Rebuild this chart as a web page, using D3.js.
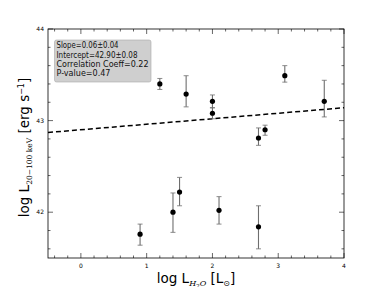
<!DOCTYPE html>
<html>
<head>
<meta charset="utf-8">
<script src="https://cdn.jsdelivr.net/npm/d3@7"></script>
<style>
  body { margin: 0; background: #fff; }
  svg { display: block; font-family: "DejaVu Sans", sans-serif; }
</style>
</head>
<body>
<svg width="382" height="287"></svg>
<script>
// log L_H2O
const xVals = [0.9, 1.4, 1.5, 1.2, 1.6, 2.0, 2.0, 2.1, 2.7, 2.7, 2.8, 3.1, 3.7];
// log L_20-100keV
const yVals = [41.76, 42.0, 42.22, 43.40, 43.29, 43.21, 43.08, 42.02, 41.84, 42.81, 42.90, 43.49, 43.21];
const yErrLow = [0.12, 0.22, 0.15, 0.06, 0.14, 0.07, 0.06, 0.15, 0.24, 0.08, 0.06, 0.07, 0.17];
const yErrHigh = [0.11, 0.21, 0.16, 0.06, 0.20, 0.07, 0.06, 0.15, 0.23, 0.11, 0.05, 0.11, 0.23];

const fitSlope = 0.06;
const fitIntercept = 42.90;
const statLines = [
    "Slope=0.06\u00b10.04",
    "Intercept=42.90\u00b10.08",
    "Correlation Coeff=0.22",
    "P-value=0.47"
];
const xTicks = [0, 1, 2, 3, 4];
const yTicks = [42, 43, 44];

const svg = d3.select("svg");
const mLeft = 48, mRight = 344, mTop = 29, mBottom = 258;

const x = d3.scaleLinear().domain([-0.5, 4]).range([mLeft, mRight]);
const y = d3.scaleLinear().domain([41.5, 44]).range([mBottom, mTop]);

// inward ticks, matplotlib classic style
function drawTicks(axis, scale, values, len) {
    values.forEach(v => {
        const p = scale(v);
        if (axis === "x") {
            svg.append("line").attr("x1", p).attr("x2", p).attr("y1", mBottom).attr("y2", mBottom - len).attr("stroke", "#000").attr("stroke-width", 0.6);
            svg.append("line").attr("x1", p).attr("x2", p).attr("y1", mTop).attr("y2", mTop + len).attr("stroke", "#000").attr("stroke-width", 0.6);
        } else {
            svg.append("line").attr("y1", p).attr("y2", p).attr("x1", mLeft).attr("x2", mLeft + len).attr("stroke", "#000").attr("stroke-width", 0.6);
            svg.append("line").attr("y1", p).attr("y2", p).attr("x1", mRight).attr("x2", mRight - len).attr("stroke", "#000").attr("stroke-width", 0.6);
        }
    });
}

const xMinor = d3.range(-4, 41, 2).map(d => d / 10).filter(d => !xTicks.includes(d));
const yMinor = d3.range(416, 441, 2).map(d => d / 10).filter(d => !yTicks.includes(d));
drawTicks("x", x, xTicks, 5);
drawTicks("x", x, xMinor, 2.5);
drawTicks("y", y, yTicks, 5);
drawTicks("y", y, yMinor, 2.5);

svg.append("g").selectAll("text").data(xTicks).join("text")
    .attr("x", d => x(d)).attr("y", mBottom + 10)
    .attr("text-anchor", "middle").attr("font-size", 6).attr("fill", "#000")
    .text(d => String(d));

svg.append("g").selectAll("text").data(yTicks).join("text")
    .attr("x", mLeft - 4).attr("y", d => y(d) + 2)
    .attr("text-anchor", "end").attr("font-size", 6).attr("fill", "#000")
    .text(d => String(d));

// fit line
svg.append("line")
    .attr("x1", x(-0.5)).attr("y1", y(fitIntercept + fitSlope * -0.5))
    .attr("x2", x(4)).attr("y2", y(fitIntercept + fitSlope * 4))
    .attr("stroke", "#000").attr("stroke-width", 1.5)
    .attr("stroke-dasharray", "5,3");

// error bars
const pts = xVals.map((d, i) => ({ x: d, y: yVals[i], lo: yErrLow[i], hi: yErrHigh[i] }));
const eb = svg.append("g").attr("stroke", "#6e6e6e").attr("stroke-width", 1.1);
pts.forEach(p => {
    const cx = x(p.x);
    eb.append("line").attr("x1", cx).attr("x2", cx).attr("y1", y(p.y - p.lo)).attr("y2", y(p.y + p.hi));
    eb.append("line").attr("x1", cx - 2.5).attr("x2", cx + 2.5).attr("y1", y(p.y - p.lo)).attr("y2", y(p.y - p.lo)).attr("stroke-width", 0.8);
    eb.append("line").attr("x1", cx - 2.5).attr("x2", cx + 2.5).attr("y1", y(p.y + p.hi)).attr("y2", y(p.y + p.hi)).attr("stroke-width", 0.8);
});

svg.append("g").selectAll("circle").data(pts).join("circle")
    .attr("cx", d => x(d.x)).attr("cy", d => y(d.y))
    .attr("r", 2.6).attr("fill", "#000");

// frame
svg.append("rect")
    .attr("x", mLeft).attr("y", mTop)
    .attr("width", mRight - mLeft).attr("height", mBottom - mTop)
    .attr("fill", "none").attr("stroke", "#000").attr("stroke-width", 0.8);

// stats box
svg.append("rect")
    .attr("x", 54.5).attr("y", 40).attr("width", 96.5).attr("height", 42)
    .attr("rx", 2).attr("fill", "#cfcfcf").attr("stroke", "#a8a8a8").attr("stroke-width", 0.6);

svg.append("g").selectAll("text").data(statLines).join("text")
    .attr("x", 56.5).attr("y", (d, i) => 48.3 + i * 9.3)
    .attr("font-size", 8.2).attr("fill", "#111")
    .attr("textLength", (d, i) => [62, 81, 92, 54][i])
    .attr("lengthAdjust", "spacingAndGlyphs")
    .text(d => d);

// x label
const xl = svg.append("text")
    .attr("x", (mLeft + mRight) / 2).attr("y", 283)
    .attr("text-anchor", "middle").attr("font-size", 13.5);
xl.append("tspan").text("log L");
xl.append("tspan").attr("dy", 3).attr("font-size", 8).attr("font-family", "DejaVu Serif").attr("font-style", "italic").text("H");
xl.append("tspan").attr("dy", 1.5).attr("font-size", 5.5).attr("font-family", "DejaVu Serif").text("2");
xl.append("tspan").attr("dy", -1.5).attr("font-size", 8).attr("font-family", "DejaVu Serif").attr("font-style", "italic").text("O");
xl.append("tspan").attr("dy", -3).text(" [L");
xl.append("tspan").attr("dy", 3).attr("font-size", 8).text("\u2299");
xl.append("tspan").attr("dy", -3).text("]");

// y label
const yl = svg.append("text")
    .attr("transform", `translate(29,${(mTop + mBottom) / 2 + 4}) rotate(-90)`)
    .attr("text-anchor", "middle").attr("font-size", 13.5);
yl.append("tspan").text("log L");
yl.append("tspan").attr("dy", 3).attr("font-size", 7.5).attr("font-family", "DejaVu Serif").text("20\u2212100 keV");
yl.append("tspan").attr("dy", -3).text(" [erg s");
yl.append("tspan").attr("dy", -5).attr("font-size", 8).text("\u22121");
yl.append("tspan").attr("dy", 5).text("]");
</script>
</body>
</html>
